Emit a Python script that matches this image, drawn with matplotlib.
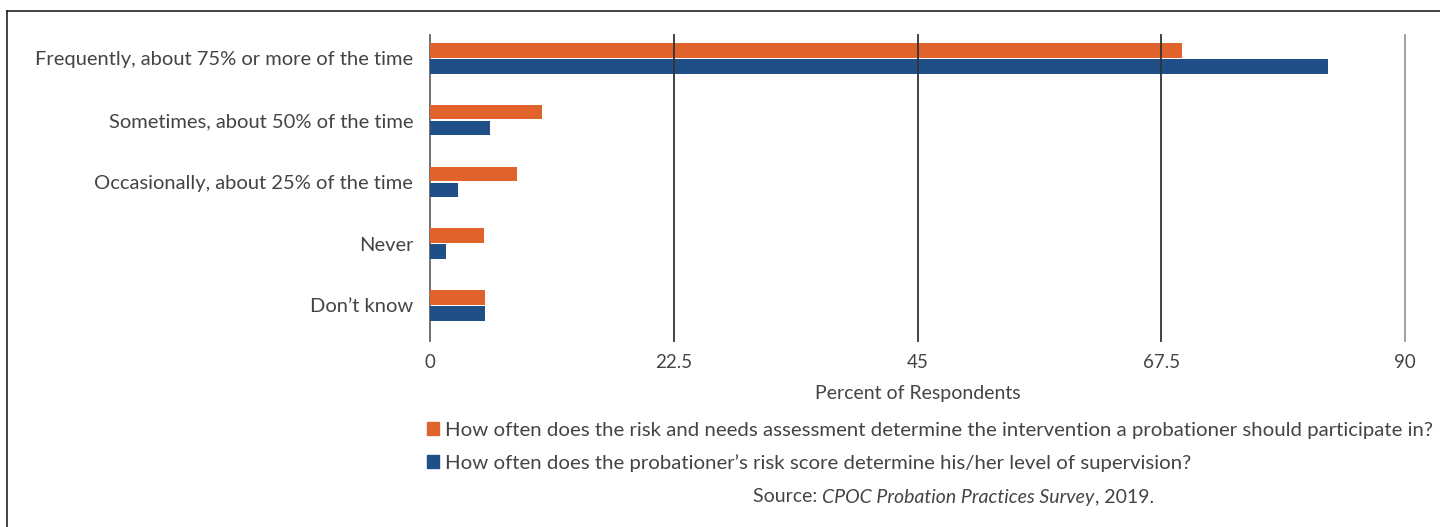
import matplotlib.pyplot as plt
from matplotlib.lines import Line2D
from matplotlib.patches import Patch
import numpy as np

categories = ['Frequently, about 75% or more of the time',
              'Sometimes, about 50% of the time',
              'Occasionally, about 25% of the time',
              'Never',
              "Don\u2019t know"]
intervention = [69.4, 10.3, 8.0, 5.0, 5.1]
supervision = [82.9, 5.5, 2.6, 1.5, 5.1]
xticks = [0, 22.5, 45, 67.5, 90]
xticklabels = ['0', '22.5', '45', '67.5', '90']
legend_labels = ['How often does the risk and needs assessment determine the intervention a probationer should participate in?',
                 'How often does the probationer\u2019s risk score determine his/her level of supervision?']

ORANGE = '#E0632B'
BLUE = '#1F4F86'
TXT = '#444444'

plt.rcParams['font.family'] = ['Lato', 'DejaVu Sans']

fig = plt.figure(figsize=(14.4, 5.27), dpi=100)
ax = fig.add_axes([430/1440, 1-330/527, 975/1440, 295/527])

y = np.arange(len(categories))
h = 0.235
ax.barh(y - 0.13, intervention, height=h, color=ORANGE, zorder=2)
ax.barh(y + 0.13, supervision, height=h, color=BLUE, zorder=2)

ax.set_xlim(0, 90)
ax.set_ylim(4.4, -0.38)
ax.set_yticks(y)
ax.set_yticklabels(categories, fontsize=14.5, color=TXT)
ax.set_xticks(xticks)
ax.set_xticklabels(xticklabels, fontsize=13.5, color=TXT)
ax.tick_params(axis='y', length=0, pad=12)
ax.tick_params(axis='x', length=0, pad=17)
for s in ax.spines.values():
    s.set_visible(False)

# vertical lines (axis + gridlines), extended a little below the axes
for xv in xticks:
    col = '#666666' if xv == 0 else ('#999999' if xv == 90 else '#333333')
    ax.plot([xv, xv], [-0.38, 4.58], color=col, lw=1.3, zorder=3 if xv else 1,
            clip_on=False)

ax.set_xlabel('Percent of Respondents', fontsize=14, color=TXT, labelpad=10)

handles = [Patch(color=ORANGE), Patch(color=BLUE)]
fig.legend(handles, legend_labels, loc='upper left',
           bbox_to_anchor=(427/1440, 1-422/527), frameon=False, fontsize=14.7,
           handlelength=0.6, handleheight=0.6, handletextpad=0.3,
           labelspacing=0.72, labelcolor=TXT, borderaxespad=0, borderpad=0)

# source line with italic title
t1 = fig.text(753/1440, 1-497/527, 'Source: ', fontsize=14, color=TXT,
              va='center', ha='left')
t2 = ax.annotate('CPOC Probation Practices Survey', xy=(1, 0), xycoords=t1,
                 va='bottom', ha='left', fontsize=14, color=TXT, style='italic')
ax.annotate(', 2019.', xy=(1, 0), xycoords=t2, va='bottom', ha='left',
            fontsize=14, color=TXT)

# frame lines around the figure (left and top)
fig.add_artist(Line2D([7/1440, 7/1440], [0, 1-11/527], color='#222222', lw=1.2))
fig.add_artist(Line2D([7/1440, 1], [1-11/527, 1-11/527], color='#222222', lw=1.2))

fig.savefig('out.png', dpi=100)
